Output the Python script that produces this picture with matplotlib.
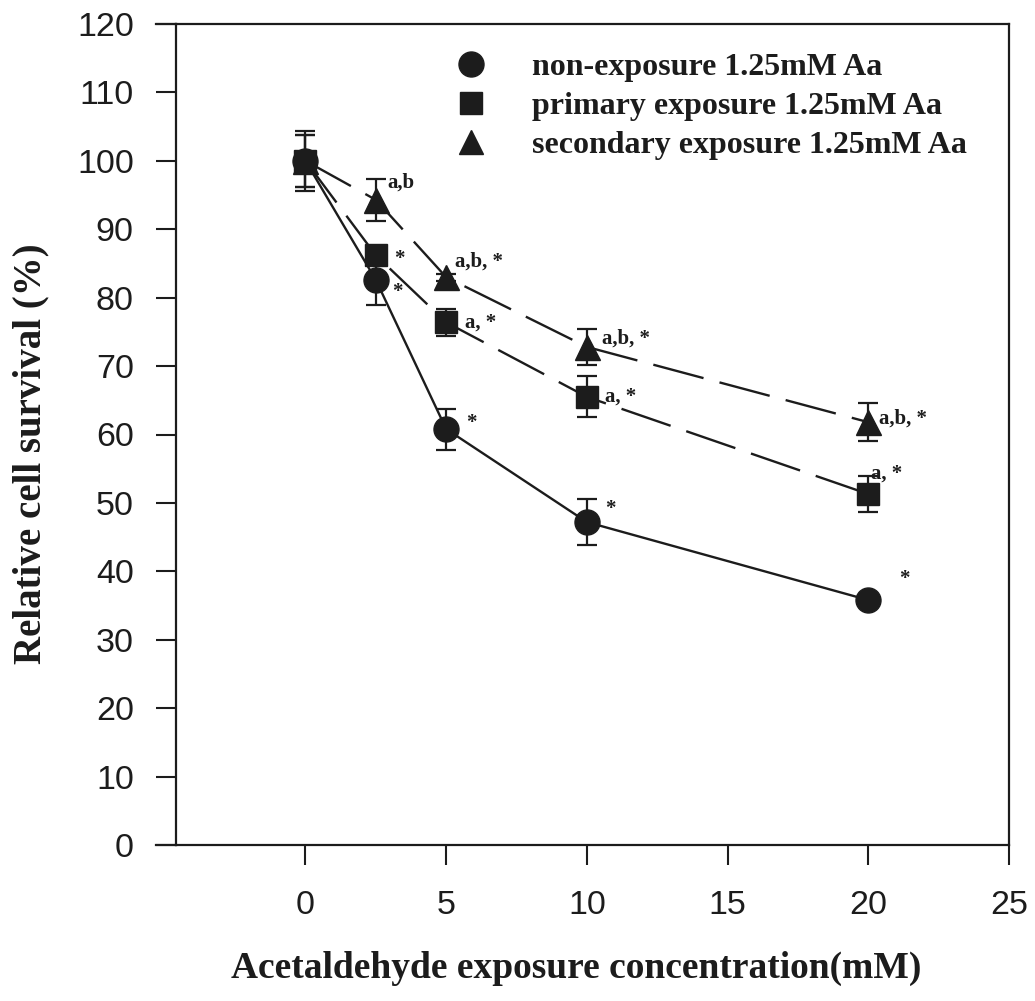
import matplotlib
matplotlib.use("Agg")
import matplotlib.pyplot as plt
from matplotlib.lines import Line2D

# ---------------- data ----------------
conc = [0, 2.5, 5, 10, 20]
non_exposure = [100, 82.6, 60.8, 47.2, 35.8]
non_exposure_err = [4.4, 3.6, 3.0, 3.3, 0.6]
primary = [100, 86.2, 76.4, 65.5, 51.3]
primary_err = [3.8, 1.0, 2.0, 3.0, 2.6]
secondary = [100, 94.3, 83.0, 72.8, 61.8]
secondary_err = [3.8, 3.1, 0.5, 2.6, 2.8]

non_exposure_marks = ["", "*", "*", "*", "*"]
primary_marks = ["", "*", "a, *", "a, *", "a, *"]
secondary_marks = ["", "a,b", "a,b, *", "a,b, *", "a,b, *"]

labels = ["non-exposure 1.25mM Aa", "primary exposure 1.25mM Aa",
          "secondary exposure 1.25mM Aa"]
xticks = [0, 5, 10, 15, 20, 25]
yticks = list(range(0, 121, 10))
xlabel = "Acetaldehyde exposure concentration(mM)"
ylabel = "Relative cell survival (%)"

# ---------------- style ----------------
SERIF = ["Liberation Serif", "DejaVu Serif"]
SANS = ["Liberation Sans", "DejaVu Sans"]
INK = "#1c1c1c"
PX = 0.72  # points per pixel at dpi 100

fig = plt.figure(figsize=(10.35, 10.01), dpi=100)
ax = fig.add_axes([176 / 1035, 1 - 845 / 1001, 833 / 1035, 821 / 1001])

ms = 18
common = dict(color=INK, ecolor=INK, elinewidth=1.6, capsize=7.5, capthick=1.6,
              markersize=ms, lw=1.7)

ax.errorbar(conc, non_exposure, yerr=non_exposure_err, marker="o", ls="-", zorder=3, **common)
l2 = ax.errorbar(conc, primary, yerr=primary_err, marker="s", ls="--", zorder=3,
                 **{**common, "markersize": ms * 0.9})
l3 = ax.errorbar(conc, secondary, yerr=secondary_err, marker="^", ls="--", zorder=3, **common)
l2.lines[0].set_dashes([22, 7])
l3.lines[0].set_dashes([22, 7])

# significance annotations (offsets in pixels, y up)
non_off = [None, (16, -12), (20, 6), (18, 13), (31, 21)]
pri_off = [None, (18, -4), (19, 0), (18, 0), (3, 20)]
sec_off = [None, (12, 17), (9, 16), (15, 8), (11, 4)]
for vals, marks, offs in [(non_exposure, non_exposure_marks, non_off),
                          (primary, primary_marks, pri_off),
                          (secondary, secondary_marks, sec_off)]:
    for x, y, m, o in zip(conc, vals, marks, offs):
        if not m:
            continue
        ax.annotate(m, (x, y), xytext=(o[0] * PX, o[1] * PX), textcoords="offset points",
                    ha="left", va="center", fontsize=15, fontweight="bold",
                    family=SERIF, color=INK)

# axes
ax.set_xlim(-4.6, 25)
ax.set_ylim(0, 120)
ax.set_xticks(xticks)
ax.set_yticks(yticks)
ax.set_xticklabels([str(t) for t in xticks], family=SANS, fontsize=24.5)
ax.set_yticklabels([str(t) for t in yticks], family=SANS, fontsize=24.5)
ax.tick_params(axis="y", direction="out", length=14.4, width=1.5, pad=16, color=INK, labelcolor=INK)
ax.tick_params(axis="x", direction="out", length=14.4, width=1.5, pad=18, color=INK, labelcolor=INK)
for s in ax.spines.values():
    s.set_linewidth(1.6)
    s.set_color(INK)

# small extensions of top/bottom lines beyond left spine
for yy in (0, 1):
    ax.add_line(Line2D([-0.024, 0], [yy, yy], transform=ax.transAxes, color=INK,
                       lw=1.6, clip_on=False))

ax.set_xlabel(xlabel, family=SERIF, fontweight="bold", fontsize=27, color=INK)
ax.xaxis.set_label_coords((576 - 176) / 833, -(968 - 845) / 821)
ax.set_ylabel(ylabel, family=SERIF, fontweight="bold", fontsize=28, color=INK)
ax.yaxis.set_label_coords(-(176 - 31) / 833, (845 - 454) / 821)
ax.xaxis.label.set_va("center")
ax.yaxis.label.set_va("center")

# legend
handles = [Line2D([], [], ls="none", marker=m, color=INK, markersize=s)
           for m, s in [("o", 18), ("s", 16), ("^", 17)]]
leg = ax.legend(handles, labels, loc="upper left",
                bbox_to_anchor=((455 - 176) / 833, 1 - (53 - 24) / 821),
                frameon=False, handlelength=1.0, handletextpad=1.4, labelspacing=0.3,
                borderpad=0, borderaxespad=0,
                prop={"family": SERIF, "weight": "bold", "size": 23})
for t in leg.get_texts():
    t.set_color(INK)

fig.savefig("out.png", dpi=100, facecolor="white")
